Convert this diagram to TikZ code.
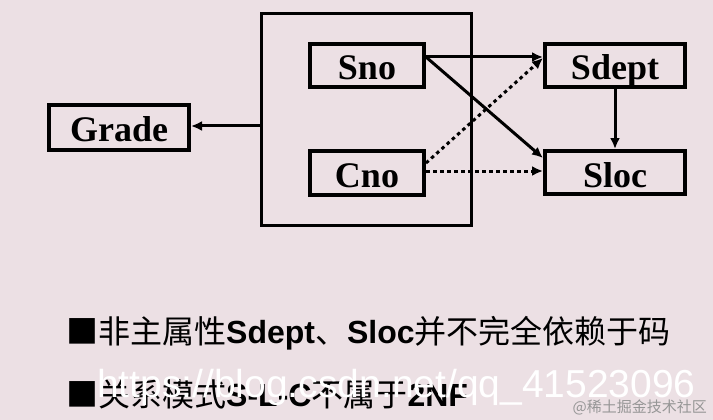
\documentclass[tikz,border=0pt]{standalone}
\usepackage{fontspec}
\setmainfont{Liberation Sans}
\newfontfamily\cjk{Noto Sans CJK SC}
\newfontfamily\tnr{Liberation Serif}
\usetikzlibrary{arrows.meta,calc}
\definecolor{bg}{RGB}{236,224,228}
\definecolor{wmgray}{RGB}{150,150,150}
\begin{document}
\begin{tikzpicture}[x=1pt,y=-1pt,
  box/.style={draw=black,line width=4pt,inner sep=0pt,
    font=\tnr\bfseries\fontsize{36}{36}\selectfont,
    text height=29pt,text depth=0pt},
  conn/.style={line width=3pt,-{Latex[length=11pt,width=10pt]}},
  dotconn/.style={conn,dash pattern=on 3.5pt off 3.5pt},
  bodytext/.style={anchor=base west,inner sep=0pt,font=\fontsize{32}{32}\selectfont},
]
\useasboundingbox (0,0) rectangle (713,420);
\fill[bg] (0,0) rectangle (713,420);

\node[draw=black,line width=3pt,minimum width=210pt,minimum height=212pt,inner sep=0pt] (big) at (366.5,119.5) {};
\node[box,minimum width=140pt,minimum height=45pt] (grade) at (119,127.5) {Grade};
\node[box,minimum width=114pt,minimum height=43pt] (sno) at (367,65.5) {Sno};
\node[box,minimum width=114pt,minimum height=44pt] (cno) at (367,173) {Cno};
\node[box,minimum width=140pt,minimum height=43pt] (sdept) at (615,65.5) {Sdept};
\node[box,minimum width=140pt,minimum height=43pt] (sloc) at (615,172.5) {Sloc};

\draw[conn] ($(big.west)+(0,6.5)$) -- ($(grade.east)+(0,-1.5)$);
\draw[conn] ($(sno.east)+(0,-8.5)$) -- ($(sdept.west)+(0,-8.5)$);
\draw[conn] ($(sno.east)+(0,-8.5)$) -- ($(sloc.west)+(0,-14.5)$);
\draw[dotconn] ($(cno.east)+(0,-10)$) -- ($(sdept.west)+(0,-7.5)$);
\draw[dotconn] ($(cno.east)+(0,-2)$) -- ($(sloc.west)+(0,-1.5)$);
\draw[conn] (sdept.south) -- (sloc.north);

\node[bodytext] (line1) at (66,343) {{\cjk ■非主属性}\textbf{Sdept}{\cjk 、}\textbf{Sloc}{\cjk 并不完全依赖于码}};
\node[bodytext] (line2) at (66,406) {{\cjk ■关系模式}\textbf{S-L-C}{\cjk 不属于}\textbf{2NF}};

\node[anchor=base west,inner sep=0pt,text=white,font=\fontsize{39}{39}\selectfont] (wm) at (97,397) {https://blog.csdn.net/qq\_41523096};
\node[anchor=east,inner sep=0pt,text=wmgray,font=\cjk\fontsize{15}{15}\selectfont] (wm2) at (707,407) {@稀土掘金技术社区};
\end{tikzpicture}
\end{document}
